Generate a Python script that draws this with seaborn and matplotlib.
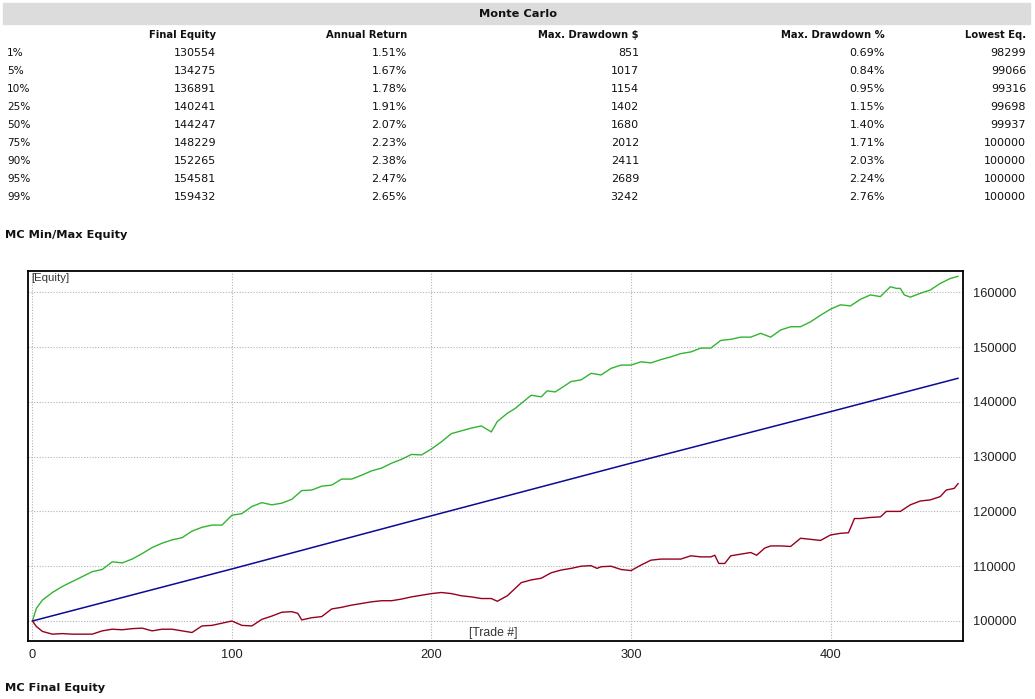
import numpy as np
import pandas as pd
import matplotlib
matplotlib.use("Agg")
import matplotlib.pyplot as plt
import seaborn as sns

# ==========================================
# TABLE DATA
# ==========================================

table_title = "Monte Carlo"

col_headers = [
    "Final Equity",
    "Annual Return",
    "Max. Drawdown $",
    "Max. Drawdown %",
    "Lowest Eq."
]

row_labels = ["1%", "5%", "10%", "25%", "50%", "75%", "90%", "95%", "99%"]

final_equity = [130554, 134275, 136891, 140241, 144247, 148229, 152265, 154581, 159432]
annual_return = ["1.51%", "1.67%", "1.78%", "1.91%", "2.07%", "2.23%", "2.38%", "2.47%", "2.65%"]
max_dd_dollar = [851, 1017, 1154, 1402, 1680, 2012, 2411, 2689, 3242]
max_dd_pct = ["0.69%", "0.84%", "0.95%", "1.15%", "1.40%", "1.71%", "2.03%", "2.24%", "2.76%"]
lowest_eq = [98299, 99066, 99316, 99698, 99937, 100000, 100000, 100000, 100000]

# ==========================================
# CHART DATA
# ==========================================

max_trades = [
    0, 2, 5, 10, 15, 20, 25, 30, 35, 40, 45, 50, 55, 60, 65, 70, 75, 80, 85, 90,
    95, 100, 105, 110, 115, 120, 125, 130, 135, 140, 145, 150, 155, 160, 165, 170,
    175, 180, 185, 190, 195, 200, 205, 210, 215, 220, 225, 230, 233, 238, 242,
    245, 250, 255, 258, 262, 265, 270, 275, 280, 285, 290, 295, 300, 305, 310,
    315, 320, 325, 330, 335, 340, 345, 350, 355, 360, 365, 370, 375, 380, 385,
    390, 395, 400, 405, 410, 415, 420, 425, 430, 433, 435, 437, 440, 445, 450,
    455, 460, 464
]
max_equity = [
    100000, 102300, 103800, 105200, 106300, 107200, 108100, 109000, 109400, 110800,
    110600, 111300, 112300, 113400, 114200, 114800, 115200, 116400, 117100, 117500,
    117500, 119300, 119600, 120900, 121600, 121200, 121500, 122200, 123800, 123900,
    124600, 124800, 125900, 125900, 126600, 127400, 127900, 128800, 129500, 130400,
    130300, 131400, 132700, 134200, 134700, 135200, 135600, 134500, 136400, 137900,
    138800, 139700, 141200, 140900, 142000, 141800, 142500, 143700, 144000, 145200,
    144900, 146100, 146700, 146700, 147300, 147100, 147700, 148200, 148800, 149100,
    149800, 149800, 151200, 151400, 151800, 151800, 152500, 151800, 153100, 153700,
    153700, 154600, 155800, 156900, 157700, 157500, 158700, 159500, 159200, 161000,
    160700, 160700, 159500, 159100, 159800, 160400, 161600, 162500, 162900
]

mean_trades = [0, 100, 200, 300, 400, 464]
mean_equity = [100000, 109500, 119200, 128800, 138200, 144300]

min_trades = [
    0, 2, 5, 10, 15, 20, 25, 30, 35, 40, 45, 50, 55, 60, 65, 70, 75, 80, 85, 90,
    95, 100, 105, 110, 115, 120, 125, 130, 133, 135, 140, 145, 150, 155, 160, 165,
    170, 175, 180, 185, 190, 195, 200, 205, 210, 215, 220, 225, 230, 233, 238, 243,
    245, 250, 255, 260, 265, 270, 275, 280, 283, 285, 290, 295, 300, 305, 310, 315,
    320, 325, 330, 335, 340, 342, 344, 347, 350, 355, 360, 363, 367, 370, 375, 380,
    385, 390, 395, 400, 405, 409, 412, 415, 420, 425, 428, 435, 440, 445, 450, 455,
    458, 462, 464
]
min_equity = [
    100000, 99000, 98100, 97600, 97700, 97600, 97600, 97600, 98200, 98500,
    98400, 98600, 98700, 98200, 98500, 98500, 98200, 97900, 99100, 99200,
    99600, 100000, 99200, 99100, 100300, 100900, 101600, 101700, 101400, 100200,
    100600, 100800, 102200, 102500, 102900, 103200, 103500, 103700, 103700, 104000,
    104400, 104700, 105000, 105200, 105000, 104600, 104400, 104100, 104100, 103600,
    104600, 106300, 107000, 107500, 107800, 108800, 109300, 109600, 110000, 110100,
    109600, 109900, 110000, 109400, 109200, 110200, 111100, 111300, 111300, 111300,
    111900, 111700, 111700, 112000, 110500, 110500, 111900, 112200, 112500, 112000,
    113300, 113700, 113700, 113600, 115100, 114900, 114700, 115700, 116000, 116100,
    118700, 118700, 118900, 119000, 120000, 120000, 121200, 121900, 122100, 122700,
    123900, 124200, 125100
]

x_ticks = [0, 100, 200, 300, 400]
y_ticks = [100000, 110000, 120000, 130000, 140000, 150000, 160000]

# ==========================================
# FIGURE
# ==========================================

sns.set_style("white")
plt.rcParams["font.family"] = ["DejaVu Sans"]

fig = plt.figure(figsize=(10.35, 6.99), dpi=100)

W, H = 1035.0, 699.0


def fx(px):
    return px / W


def fy(py):
    return 1 - py / H


# gray title band
fig.patches.append(plt.Rectangle(
    (fx(3), fy(24)), fx(1027), 21 / H,
    transform=fig.transFigure, color="#dcdcdc", zorder=0
))

fig.text(fx(518), fy(14), table_title, ha="center", va="center",
         fontsize=8.2, fontweight="bold", color="#111111")

col_right = [216, 407, 639, 885, 1026]

for hdr, xr in zip(col_headers, col_right):
    fig.text(fx(xr), fy(35), hdr, ha="right", va="center",
             fontsize=7.2, fontweight="bold", color="#111111")

columns = [
    [str(v) for v in final_equity],
    annual_return,
    [str(v) for v in max_dd_dollar],
    max_dd_pct,
    [str(v) for v in lowest_eq],
]

for i, lab in enumerate(row_labels):
    ypix = 53 + 18 * i
    fig.text(fx(7), fy(ypix), lab, ha="left", va="center",
             fontsize=7.6, color="#111111")
    for col, xr in zip(columns, col_right):
        fig.text(fx(xr), fy(ypix), col[i], ha="right", va="center",
                 fontsize=8.0, color="#111111")

fig.text(fx(5), fy(235), "MC Min/Max Equity", ha="left", va="center",
         fontsize=8.2, fontweight="bold", color="#111111")

fig.text(fx(5), fy(688), "MC Final Equity", ha="left", va="center",
         fontsize=8.2, fontweight="bold", color="#111111")

# ==========================================
# EQUITY CHART
# ==========================================

ax = fig.add_axes([fx(28), fy(641), (963 - 28) / W, (641 - 271) / H])

df_max = pd.DataFrame({"trade": max_trades, "equity": max_equity})
df_mean = pd.DataFrame({"trade": mean_trades, "equity": mean_equity})
df_min = pd.DataFrame({"trade": min_trades, "equity": min_equity})

sns.lineplot(data=df_max, x="trade", y="equity", ax=ax,
             color="#32b432", linewidth=1.0)
sns.lineplot(data=df_mean, x="trade", y="equity", ax=ax,
             color="#0a0a96", linewidth=1.1)
sns.lineplot(data=df_min, x="trade", y="equity", ax=ax,
             color="#96001e", linewidth=1.0)

ax.set_xlim(-2.2, 466.4)
ax.set_ylim(96350, 163870)

ax.set_xticks(x_ticks)
ax.set_yticks(y_ticks)
ax.set_xticklabels([str(t) for t in x_ticks])
ax.set_yticklabels([str(t) for t in y_ticks])

ax.yaxis.tick_right()
ax.tick_params(axis="both", length=0, labelsize=9.3, colors="#222222")
ax.tick_params(axis="x", pad=6)
ax.tick_params(axis="y", pad=7)

for lbl in ax.get_xticklabels() + ax.get_yticklabels():
    lbl.set_family("Liberation Sans")

ax.set_xlabel("")
ax.set_ylabel("")

ax.grid(True, linestyle=(0, (1, 1.5)), color="#b4b4b4", linewidth=0.8)

for spine in ax.spines.values():
    spine.set_color("black")
    spine.set_linewidth(1.3)
    spine.set_visible(True)

ax.text(0.004, 0.982, "[Equity]", transform=ax.transAxes, ha="left", va="center",
        fontsize=8.2, color="#333333", family="Liberation Sans")
ax.text(0.498, 0.022, "[Trade #]", transform=ax.transAxes, ha="center", va="center",
        fontsize=8.8, color="#333333", family="Liberation Sans")

fig.savefig("out.png", dpi=100)
